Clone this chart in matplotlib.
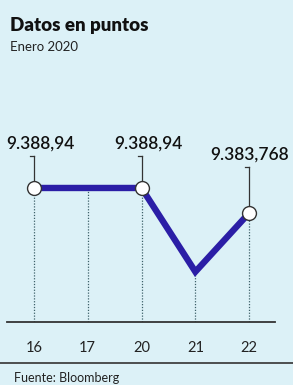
import matplotlib.pyplot as plt

plt.rcParams['font.family'] = ['Lato', 'DejaVu Sans']

days = ['16', '17', '20', '21', '22']
points = [9388.94, 9388.94, 9388.94, 9371.6, 9383.768]
labels = {0: '9.388,94', 2: '9.388,94', 4: '9.383,768'}

bg = '#dcf1f7'
line_color = '#2b1ea6'

fig = plt.figure(figsize=(2.93, 3.85), dpi=100)
fig.patch.set_facecolor(bg)

ax = fig.add_axes([7 / 293, 63 / 385, 268 / 293, 212 / 385])
ax.set_facecolor(bg)
x = list(range(len(days)))

# dotted guides from each point down to the axis
for i in x:
    ax.plot([i, i], [9361.2, points[i]], color='#3d6169', lw=0.9,
            ls=(0, (1, 1.3)), zorder=1)

ax.plot(x, points, color=line_color, lw=4.6, solid_joinstyle='miter', zorder=2)

for i in labels:
    ax.plot(i, points[i], 'o', ms=10, mfc='white', mec='#333333', mew=1.0, zorder=3)

# leader lines and value labels
lead_top = {0: 9395.6, 2: 9395.6, 4: 9393.3}
for i, txt in labels.items():
    ax.plot([i, i], [points[i] + 1.5, lead_top[i]], color='#333333', lw=0.9, zorder=1)
    ax.plot([i - 0.07, i], [lead_top[i], lead_top[i]], color='#333333', lw=0.9, zorder=1)
    xoff = 0.12 if i < 4 else 0.0
    ax.text(i + xoff, lead_top[i] + 0.9, txt, ha='center', va='bottom',
            fontsize=12.5, fontweight='semibold', color='#111111')

ax.set_xlim(-0.5, 4.48)
ax.set_ylim(9361.2, 9405.08)
ax.set_xticks(x)
ax.set_xticklabels(days, fontsize=10.5, color='#222222')
ax.tick_params(axis='x', length=0, pad=14)
ax.set_yticks([])
for s in ['top', 'right', 'left']:
    ax.spines[s].set_visible(False)
ax.spines['bottom'].set_color('#333333')
ax.spines['bottom'].set_linewidth(1.3)

fig.text(10 / 293, 1 - 25 / 385, 'Datos en puntos', fontsize=13.5, fontweight='heavy',
         va='center', color='#111111')
fig.text(10 / 293, 1 - 47 / 385, 'Enero 2020', fontsize=9.5,
         va='center', color='#222222')

fig.add_artist(plt.Line2D([0, 1], [1 - 363 / 385, 1 - 363 / 385], color='#333333', lw=1.2))
fig.text(14 / 293, 1 - 378 / 385, 'Fuente: Bloomberg', fontsize=9,
         va='center', color='#222222')

fig.savefig('out.png', dpi=100, facecolor=bg)
